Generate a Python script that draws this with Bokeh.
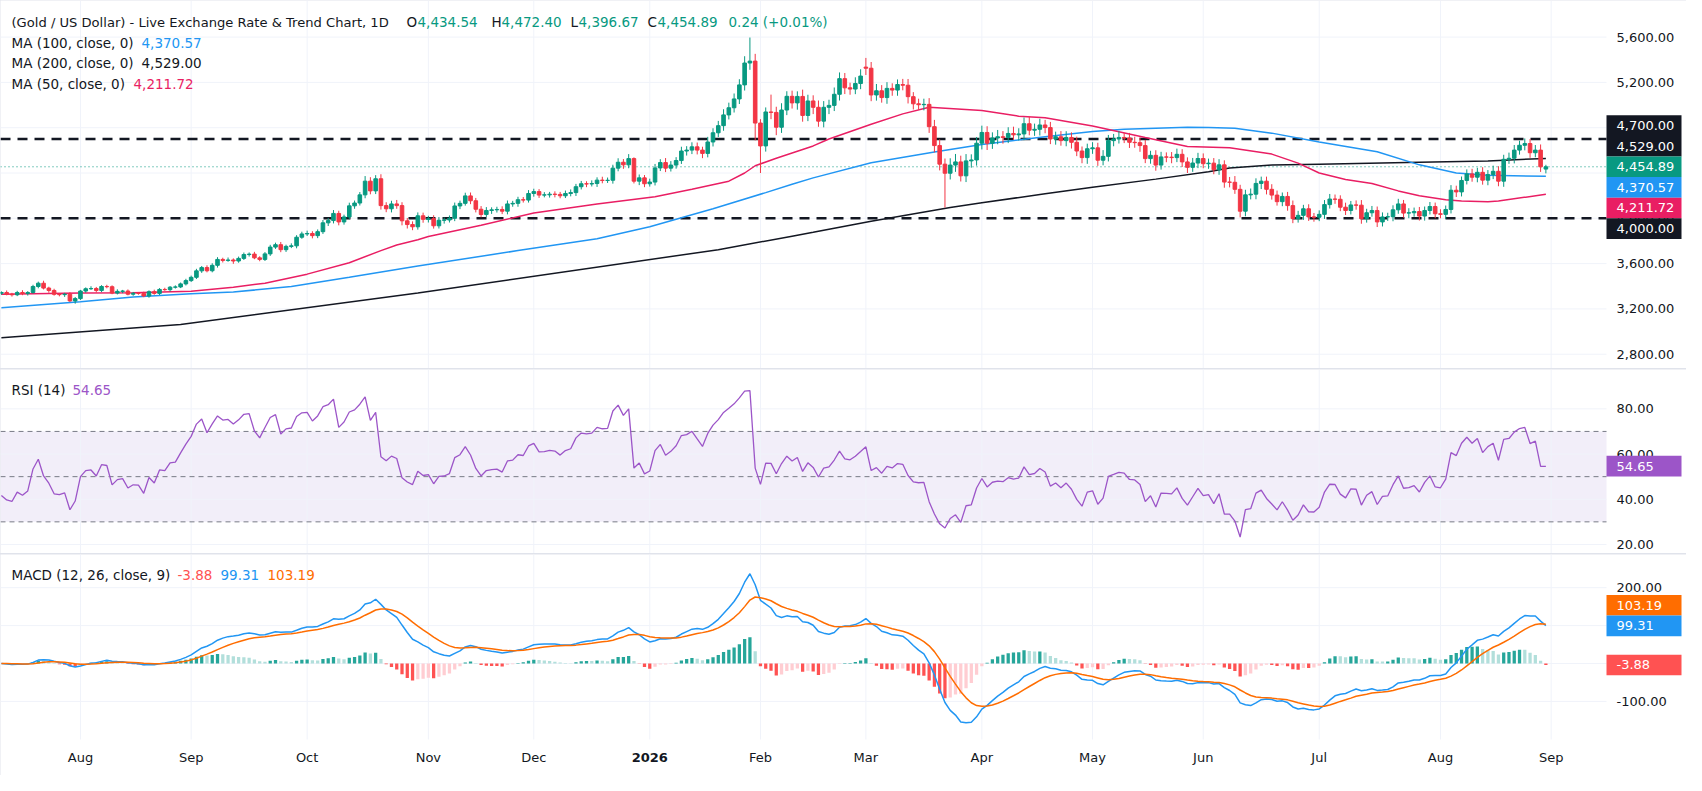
import numpy as np
from bokeh.plotting import figure
from bokeh.models import Range1d, BoxAnnotation, Label, ColumnDataSource
from bokeh.core.properties import value
from bokeh.layouts import column
from bokeh.embed import file_html
from bokeh.resources import INLINE

# ---------------- data ----------------
start_index = -15          # bar index of first candle (0 = 1 Aug 2025)
closes = [
    3345, 3330, 3325, 3345, 3336, 3345, 3398, 3427, 3384, 3363,
    3329, 3326, 3330, 3271, 3291, 3358, 3378, 3380, 3363, 3398,
    3396, 3340, 3355, 3358, 3330, 3338, 3337, 3314, 3352, 3337,
    3372, 3370, 3392, 3394, 3421, 3450, 3479, 3536, 3565, 3537,
    3585, 3637, 3628, 3632, 3623, 3646, 3680, 3684, 3651, 3637,
    3686, 3746, 3767, 3723, 3752, 3757, 3833, 3862, 3866, 3847,
    3882, 3960, 3980, 4043, 3968, 4012, 4110, 4135, 4207, 4328,
    4242, 4349, 4112, 4084, 4127, 4112, 3978, 3945, 3925, 4022,
    3991, 3997, 3934, 3983, 3985, 4000, 4109, 4132, 4198, 4155,
    4080, 4034, 4069, 4075, 4078, 4063, 4127, 4132, 4164, 4161,
    4219, 4236, 4205, 4207, 4213, 4211, 4199, 4219, 4227, 4279,
    4305, 4303, 4307, 4337, 4334, 4336, 4443, 4495, 4472, 4527,
    4328, 4357, 4305, 4320, 4445, 4492, 4443, 4470, 4510, 4594,
    4602, 4631, 4602, 4573, 4674, 4755, 4818, 4913, 4976, 5054,
    5178, 5371, 5388, 4841, 4639, 4939, 4935, 4804, 4956, 5077,
    5019, 5076, 4908, 5036, 4980, 4858, 4980, 4997, 5095, 5233,
    5152, 5141, 5190, 5256, 5325, 5089, 5126, 5066, 5147, 5132,
    5181, 5175, 5074, 5011, 5003, 5006, 4809, 4642, 4478, 4398,
    4470, 4498, 4375, 4507, 4515, 4663, 4758, 4663, 4709, 4720,
    4714, 4749, 4737, 4745, 4835, 4778, 4786, 4824, 4801, 4700,
    4720, 4686, 4714, 4671, 4594, 4536, 4614, 4622, 4513, 4547,
    4686, 4700, 4714, 4709, 4671, 4668, 4642, 4527, 4556, 4470,
    4542, 4540, 4536, 4565, 4498, 4450, 4488, 4528, 4482, 4487,
    4429, 4472, 4320, 4318, 4256, 4063, 4207, 4213, 4308, 4328,
    4256, 4205, 4147, 4193, 4112, 3997, 4026, 4084, 4012, 4010,
    4035, 4121, 4170, 4168, 4098, 4069, 4118, 4116, 3997, 4049,
    4069, 3968, 4012, 4014, 4075, 4127, 4046, 4049, 4060, 4020,
    4069, 4104, 4040, 4035, 4078, 4248, 4233, 4334, 4392, 4363,
    4406, 4337, 4386, 4415, 4328, 4521, 4530, 4602, 4645, 4660,
    4579, 4602, 4454.65, 4454.89,
]
first_open = 3338.0
open_overrides = {149: 5335.0, 278: 4434.54}
wick_up = [
    10, 18, 12, 15, 20, 12, 15, 14, 22, 12,
    15, 10, 12, 18, 14, 10, 12, 20, 14, 12,
    15, 12, 18, 10, 14, 12, 10, 15, 12, 18,
    12, 15, 10, 14, 12, 16, 15, 18, 14, 20,
    18, 20, 15, 22, 14, 16, 18, 15, 20, 14,
    16, 20, 18, 24, 15, 22, 18, 20, 25, 20,
    20, 25, 22, 30, 24, 20, 28, 22, 25, 45,
    35, 32, 40, 30, 28, 35, 30, 25, 28, 30,
    28, 25, 30, 28, 22, 25, 30, 24, 28, 30,
    25, 28, 30, 22, 24, 28, 30, 22, 26, 24,
    30, 25, 22, 24, 20, 25, 22, 26, 28, 25,
    25, 22, 28, 25, 30, 24, 30, 35, 28, 40,
    11, 30, 25, 30, 35, 30, 40, 35, 30, 38,
    35, 40, 38, 30, 45, 40, 42, 50, 45, 48,
    50, 60, 208, 64, 34, 40, 153, 50, 60, 45,
    50, 45, 60, 55, 50, 60, 55, 50, 60, 55,
    50, 45, 55, 60, 81, 55, 60, 50, 55, 45,
    45, 50, 55, 40, 45, 50, 55, 60, 55, 50,
    60, 70, 55, 60, 50, 55, 60, 55, 50, 60,
    50, 55, 60, 50, 55, 60, 50, 55, 45, 50,
    45, 50, 55, 45, 50, 40, 45, 50, 45, 55,
    50, 45, 55, 40, 45, 50, 45, 50, 40, 45,
    45, 40, 45, 50, 45, 40, 45, 50, 45, 40,
    45, 50, 40, 45, 55, 40, 45, 50, 45, 40,
    40, 45, 40, 35, 40, 45, 40, 35, 40, 35,
    35, 40, 45, 40, 35, 40, 35, 40, 45, 35,
    40, 35, 40, 35, 40, 45, 35, 40, 35, 40,
    35, 40, 35, 40, 35, 45, 40, 35, 40, 45,
    40, 45, 40, 50, 45, 40, 50, 45, 40, 45,
    40, 45, 50, 17.51,
]
wick_dn = [
    14, 10, 16, 12, 15, 18, 10, 16, 12, 20,
    12, 15, 20, 10, 25, 12, 15, 10, 18, 14,
    14, 10, 12, 16, 10, 14, 12, 10, 15, 12,
    14, 10, 16, 12, 10, 14, 12, 15, 18, 14,
    14, 20, 18, 12, 25, 15, 14, 18, 12, 16,
    14, 18, 16, 22, 20, 15, 22, 14, 18, 24,
    22, 20, 28, 25, 30, 24, 20, 26, 22, 30,
    30, 28, 35, 30, 32, 28, 40, 35, 30, 25,
    30, 28, 25, 24, 30, 22, 25, 28, 20, 30,
    28, 25, 22, 30, 24, 26, 28, 25, 30, 22,
    22, 28, 25, 20, 24, 26, 22, 20, 25, 30,
    24, 28, 22, 30, 25, 22, 30, 28, 35, 30,
    20, 35, 30, 25, 30, 28, 35, 30, 32, 30,
    40, 35, 38, 42, 35, 40, 38, 45, 40, 42,
    45, 50, 60, 153, 239, 50, 60, 70, 50, 45,
    50, 60, 55, 50, 60, 50, 55, 60, 50, 55,
    55, 50, 45, 50, 60, 55, 50, 45, 55, 50,
    50, 45, 60, 50, 45, 50, 55, 60, 55, 303,
    55, 60, 50, 55, 60, 50, 55, 60, 50, 55,
    55, 50, 45, 50, 55, 45, 50, 55, 50, 45,
    50, 45, 50, 55, 45, 50, 55, 45, 50, 45,
    45, 50, 40, 45, 50, 45, 55, 40, 45, 50,
    40, 45, 50, 40, 45, 50, 40, 45, 40, 45,
    40, 45, 50, 45, 40, 55, 45, 40, 45, 50,
    45, 40, 35, 40, 45, 40, 35, 40, 35, 40,
    35, 40, 35, 40, 35, 40, 35, 40, 45, 35,
    35, 45, 40, 35, 40, 35, 40, 45, 35, 40,
    40, 35, 40, 35, 40, 35, 45, 40, 35, 40,
    45, 40, 45, 40, 45, 50, 40, 45, 40, 45,
    45, 40, 45, 37.87,
]

ma50_x = [-15, 0, 10, 21, 29, 35, 43, 51, 57, 60, 64, 66, 76, 86, 98, 109, 116, 123,
          126, 128, 132, 139, 142, 150, 156, 161, 171, 178, 183, 192, 202, 210, 218,
          226, 231, 235, 240, 245, 250, 254, 259, 262, 267, 269, 278]
ma50_y = [3329, 3340, 3343, 3355, 3392, 3427, 3507, 3608, 3715, 3765, 3810, 3839, 3939,
          4046, 4127, 4190, 4256, 4328, 4400, 4464, 4530, 4639, 4700, 4830, 4922, 4980,
          4951, 4902, 4887, 4815, 4714, 4634, 4622, 4567, 4487, 4400, 4343, 4308, 4242,
          4199, 4164, 4153, 4147, 4153, 4211.72]
ma100_x = [-15, 0, 10, 21, 29, 40, 51, 64, 83, 98, 108, 120, 130, 135, 139, 150, 162,
           171, 183, 192, 198, 210, 214, 219, 226, 235, 246, 254, 261, 267, 278]
ma100_y = [3211, 3263, 3306, 3335, 3349, 3398, 3479, 3579, 3715, 3820, 3925, 4085, 4227,
           4300, 4357, 4490, 4585, 4651, 4720, 4766, 4786, 4804, 4801, 4795, 4752, 4674,
           4588, 4472, 4400, 4380, 4370.57]
ma200_x = [-15, 19, 64, 121, 135, 139, 150, 165, 171, 183, 192, 204, 214, 218, 226, 235,
           254, 267, 278]
ma200_y = [2946, 3063, 3340, 3723, 3842, 3876, 3974, 4095, 4138, 4216, 4274, 4346, 4412,
           4444, 4470, 4478, 4495, 4507, 4529.00]

month_ticks = [0, 21, 43, 66, 86, 108, 129, 149, 171, 192, 213, 235, 258, 279]
month_labels = ["Aug", "Sep", "Oct", "Nov", "Dec", "2026", "Feb", "Mar", "Apr",
                "May", "Jun", "Jul", "Aug", "Sep"]

price_ticks = [2800, 3200, 3600, 4000, 4400, 4800, 5200, 5600]
rsi_ticks = [20, 40, 60, 80]
macd_ticks = [-100, 0, 100, 200]
levels = [4700, 4000]
last_price = 4454.89

title_text = "(Gold / US Dollar) - Live Exchange Rate & Trend Chart, 1D"
ohlc_letters = ["O", "H", "L", "C"]
ohlc_values = ["4,434.54", "4,472.40", "4,396.67", "4,454.89"]
change_text = "0.24 (+0.01%)"
ma_names = ["MA (100, close, 0)", "MA (200, close, 0)", "MA (50, close, 0)"]
ma_values = ["4,370.57", "4,529.00", "4,211.72"]
rsi_value = 54.65
macd_values = [-3.88, 99.31, 103.19]   # histogram, macd, signal

# ---------------- styling / layout ----------------
FONT = "DejaVu Sans"
TXT = "#131722"
GRID = "#F0F3FA"
UP, DN = "#089981", "#F23645"
C50, C100, C200 = "#E91E63", "#2196F3", "#131722"
RSIC = "#9C55C8"
MACDC, SIGC = "#2196F3", "#FF6D00"
LEG_SIZE = "13.5px"
TITLE_SIZE = "13.1px"
AX_SIZE = "13px"

W, AXW = 1686, 80          # whole width, price-scale width
FW = W - AXW               # chart area width
H1, H2, H3, HB = 368, 184, 185, 36
BOX_W, BOX_H = 75, 20.6    # price-scale value boxes, px

X_LO, X_CHART_HI = -15.17, 289.5
PXB = FW / (X_CHART_HI - X_LO)
X_HI = X_LO + W / PXB
X_TXT = X_CHART_HI + 10 / PXB
xr = Range1d(X_LO, X_HI)


def base(h, ylo, yhi, ticks, fmt, bottom=0):
    """Frame covers the whole canvas; the price scale is drawn by hand on the right."""
    upp = (yhi - ylo) / h
    p = figure(width=W, height=h + bottom, x_range=xr,
               y_range=Range1d(ylo - bottom * upp, yhi),
               output_backend="svg", toolbar_location=None,
               min_border=0, min_border_left=0, min_border_right=0,
               min_border_top=0, min_border_bottom=0)
    p.xaxis.visible = False
    p.yaxis.visible = False
    p.xgrid.visible = False
    p.ygrid.visible = False
    p.outline_line_color = None
    p.background_fill_color = "white"
    p.border_fill_color = "white"
    p.segment(x0=month_ticks, y0=[ylo] * len(month_ticks), x1=month_ticks,
              y1=[yhi] * len(month_ticks), line_color=GRID, line_width=1)
    p.segment(x0=[X_LO] * len(ticks), y0=ticks, x1=[X_CHART_HI] * len(ticks),
              y1=ticks, line_color=GRID, line_width=1)
    p.text(x=[X_TXT] * len(ticks), y=ticks, text=[format(t, fmt) for t in ticks],
           text_color=TXT, text_font=value(FONT), text_font_size=AX_SIZE,
           text_baseline="middle", text_align="left")
    return p, upp


def hline(p, y, color, dash, width):
    p.segment(x0=[X_LO], y0=[y], x1=[X_CHART_HI], y1=[y], line_color=color,
              line_dash=dash, line_width=width)


def txt(p, x, y, text, color=TXT, size=LEG_SIZE, bold=False, xu="screen",
        yu="screen", align="left"):
    p.add_layout(Label(x=x, y=y, x_units=xu, y_units=yu, text=text, text_color=color,
                       text_font=FONT, text_font_size=size, text_baseline="middle",
                       text_align=align, text_font_style="bold" if bold else "normal"))


def box(p, upp, y, text, bg):
    half = BOX_H / 2 * upp
    p.quad(left=[X_CHART_HI], right=[X_CHART_HI + BOX_W / PXB], bottom=[y - half],
           top=[y + half], fill_color=bg, line_color=None)
    p.text(x=[X_TXT], y=[y], text=[text], text_color="white", text_font=value(FONT),
           text_font_size=AX_SIZE, text_baseline="middle", text_align="left")


# ---------------- price panel ----------------
n = len(closes)
assert len(wick_up) == n and len(wick_dn) == n
xs = np.arange(start_index, start_index + n)
c = np.array(closes, dtype=float)
o = np.concatenate([[first_open], c[:-1]])
for k, v in open_overrides.items():
    o[k - start_index] = v
top = np.maximum(o, c)
bot = np.minimum(o, c)
hi = top + np.array(wick_up, dtype=float)
lo = bot - np.array(wick_dn, dtype=float)
col = np.where(c >= o, UP, DN)
src = ColumnDataSource(dict(x=xs, top=top, bot=bot, hi=hi, lo=lo, col=col))

p1, upp1 = base(H1, 2674, 5923, price_ticks, ",.2f")
hline(p1, last_price, UP, "1 3", 1)
for lv in levels:
    hline(p1, lv, TXT, "10 7", 2.5)
p1.line(ma200_x, ma200_y, line_color=C200, line_width=1.5)
p1.line(ma100_x, ma100_y, line_color=C100, line_width=1.5)
p1.line(ma50_x, ma50_y, line_color=C50, line_width=1.5)
p1.segment("x", "hi", "x", "lo", line_color="col", line_width=1, source=src)
p1.vbar(x="x", width=0.68, top="top", bottom="bot", fill_color="col",
        line_color="col", line_width=1, source=src)

# legend texts
ly = [H1 - 21.5, H1 - 42, H1 - 62.5, H1 - 83]
txt(p1, 11, ly[0], title_text, size=TITLE_SIZE)
ox = [406, 491, 570, 647]
for L, V, x0 in zip(ohlc_letters, ohlc_values, ox):
    txt(p1, x0, ly[0], L)
    txt(p1, x0 + {"O": 11, "H": 10, "L": 8, "C": 10}[L], ly[0], V, color=UP)
txt(p1, 728, ly[0], change_text, color=UP)
ma_cols = [C100, TXT, C50]
ma_vx = [141, 141, 133]
for i in range(3):
    txt(p1, 11, ly[i + 1], ma_names[i])
    txt(p1, ma_vx[i], ly[i + 1], ma_values[i], color=ma_cols[i])

# price-scale value boxes, stacked around the last price like the reference
stack = [(2, "4,700.00", TXT), (1, "4,529.00", TXT), (0, "4,454.89", UP),
         (-1, "4,370.57", C100), (-2, "4,211.72", C50), (-3, "4,000.00", TXT)]
for k, t, bg in stack:
    box(p1, upp1, last_price + k * BOX_H * upp1, t, bg)

# ---------------- RSI panel ----------------
d = np.diff(c, prepend=c[0])
gain = np.clip(d, 0, None)
loss = np.clip(-d, 0, None)
ag = np.zeros(n)
al = np.zeros(n)
ag[0] = gain[1:15].mean()
al[0] = loss[1:15].mean()
for i in range(1, n):
    ag[i] = (ag[i - 1] * 13 + gain[i]) / 14
    al[i] = (al[i - 1] * 13 + loss[i]) / 14
rsi = 100 - 100 / (1 + ag / np.maximum(al, 1e-9))

p2, upp2 = base(H2, 16.0, 97.4, rsi_ticks, ".2f")
p2.add_layout(BoxAnnotation(left=X_LO, right=X_CHART_HI, bottom=30, top=70,
                            fill_color="#7E57C2", fill_alpha=0.1, line_color=None,
                            level="underlay"))
for lv in (70, 50, 30):
    hline(p2, lv, "#787B86", "5 4", 1)
p2.line(xs, rsi, line_color=RSIC, line_width=1.3)
txt(p2, 11, H2 - 20, "RSI (14)")
txt(p2, 72, H2 - 20, f"{rsi_value:.2f}", color=RSIC)
box(p2, upp2, rsi_value, f"{rsi_value:.2f}", RSIC)

# ---------------- MACD panel ----------------
def ema(a, span):
    k_ = 2 / (span + 1)
    out = np.zeros(len(a))
    out[0] = a[0]
    for i in range(1, len(a)):
        out[i] = k_ * a[i] + (1 - k_) * out[i - 1]
    return out


macd = ema(c, 12) - ema(c, 26)
sig = ema(macd, 9)
hist = macd - sig
hcol = []
for i in range(n):
    prev = hist[i - 1] if i > 0 else 0
    if hist[i] >= 0:
        hcol.append("#26A69A" if hist[i] >= prev else "#B2DFDB")
    else:
        hcol.append("#FF5252" if hist[i] < prev else "#FFCDD2")
hsrc = ColumnDataSource(dict(x=xs, h=hist, col=hcol))

p3, upp3 = base(H3, -200.4, 287.5, macd_ticks, ".2f", bottom=HB)
p3.vbar(x="x", width=0.62, top="h", bottom=0, fill_color="col", line_color=None,
        source=hsrc)
p3.line(xs, macd, line_color=MACDC, line_width=1.5)
p3.line(xs, sig, line_color=SIGC, line_width=1.5)
txt(p3, 11, H3 + HB - 20, "MACD (12, 26, close, 9)")
txt(p3, 177, H3 + HB - 20, f"{macd_values[0]:.2f}", color="#FF5252")
txt(p3, 220, H3 + HB - 20, f"{macd_values[1]:.2f}", color=MACDC)
txt(p3, 267, H3 + HB - 20, f"{macd_values[2]:.2f}", color=SIGC)
box(p3, upp3, macd_values[1] + BOX_H * upp3, f"{macd_values[2]:.2f}", SIGC)
box(p3, upp3, macd_values[1], f"{macd_values[1]:.2f}", MACDC)
box(p3, upp3, macd_values[0], f"{macd_values[0]:.2f}", "#FF5252")

# time-axis labels
for t, lab in zip(month_ticks, month_labels):
    txt(p3, t, HB - 18, lab, size=AX_SIZE, xu="data", align="center",
        bold=(lab == "2026"))

layout = column(p1, p2, p3, spacing=1, styles={"background-color": "#E0E3EB"})
open("out.html", "w").write(file_html(layout, INLINE))
